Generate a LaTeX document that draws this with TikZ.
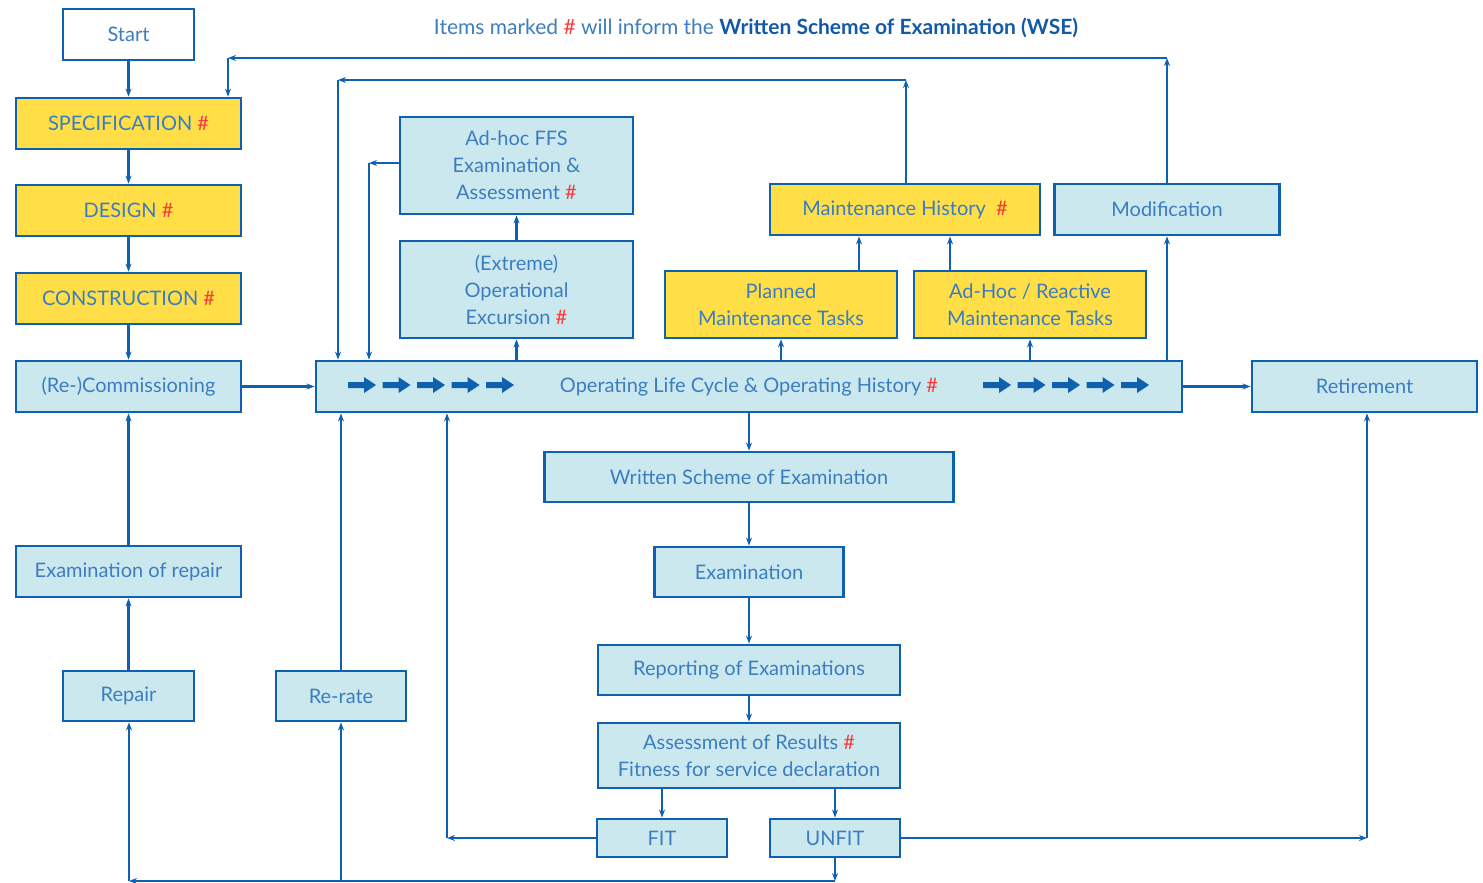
\documentclass[tikz,border=0pt]{standalone}
\usepackage{fontspec}
\setmainfont{Lato}
\usetikzlibrary{arrows.meta}
\definecolor{lb}{HTML}{1060B0}
\definecolor{fillb}{HTML}{CBE8EF}
\definecolor{yel}{HTML}{FFDE47}
\definecolor{txt}{HTML}{3C7DC0}
\definecolor{hashred}{HTML}{F53B3B}
\definecolor{dark}{HTML}{1458A8}
\newcommand\hs{{\color{hashred}\#}}
\begin{document}
\begin{tikzpicture}[x=1pt,y=-1pt,
  box/.style={draw=lb, line width=2.8pt, inner sep=0pt, text=txt, font=\fontsize{20}{27}\selectfont, align=center},
  whitebox/.style={box, fill=white},
  bluebox/.style={box, fill=fillb},
  yelbox/.style={box, fill=yel},
  arr/.style={draw=lb, line width=2.1pt, -{Stealth[length=8pt,width=6pt]}}]
\useasboundingbox (0,0) rectangle (1483,883);
% title
\node[text=txt, font=\fontsize{21}{25}\selectfont] (title) at (756,28)
  {Items marked \hs{} will inform the {\color{dark}\bfseries Written Scheme of Examination (WSE)}};
% left column
\node[whitebox, minimum width=131, minimum height=51] (start) at (128.5,34.5) {Start};
\node[yelbox, minimum width=225, minimum height=51] (spec) at (128.5,123.5) {SPECIFICATION \hs};
\node[yelbox, minimum width=225, minimum height=51] (design) at (128.5,210.5) {DESIGN \hs};
\node[yelbox, minimum width=225, minimum height=51] (constr) at (128.5,298.5) {CONSTRUCTION \hs};
\node[bluebox, minimum width=225, minimum height=51] (recomm) at (128.5,386.5) {(Re-)Commissioning};
\node[bluebox, minimum width=225, minimum height=51] (exrep) at (128.5,571.5) {Examination of repair};
\node[bluebox, minimum width=131, minimum height=50] (repair) at (128.5,696) {Repair};
\node[bluebox, minimum width=130, minimum height=50] (rerate) at (341,696) {Re-rate};
% main row
\node[bluebox, minimum width=866, minimum height=51] (op) at (749,386.5) {Operating Life Cycle \& Operating History \hs};
\node[bluebox, minimum width=225, minimum height=51] (ret) at (1364.5,386.5) {Retirement};
% upper boxes
\node[bluebox, minimum width=233, minimum height=97] (ffs) at (516.5,165.5) {Ad-hoc FFS\\Examination \&\\Assessment \hs};
\node[bluebox, minimum width=233, minimum height=97] (exc) at (516.5,289.5) {(Extreme)\\Operational\\Excursion \hs};
\node[yelbox, minimum width=270, minimum height=51] (mh) at (905,209.5) {Maintenance History~~\hs};
\node[bluebox, minimum width=225, minimum height=51] (mod) at (1167,209.5) {Modification};
\node[yelbox, minimum width=232, minimum height=67] (plan) at (781,304.5) {Planned\\Maintenance Tasks};
\node[yelbox, minimum width=232, minimum height=67] (adhoc) at (1030,304.5) {Ad-Hoc / Reactive\\Maintenance Tasks};
% lower column
\node[bluebox, minimum width=409, minimum height=50] (wse) at (749,477) {Written Scheme of Examination};
\node[bluebox, minimum width=189, minimum height=50] (exam) at (749,572) {Examination};
\node[bluebox, minimum width=302, minimum height=50] (rep) at (749,670) {Reporting of Examinations};
\node[bluebox, minimum width=302, minimum height=65] (ass) at (749,755.5) {Assessment of Results \hs\\Fitness for service declaration};
\node[bluebox, minimum width=130, minimum height=38] (fit) at (662,838) {FIT};
\node[bluebox, minimum width=130, minimum height=38] (unfit) at (835,838) {UNFIT};
% block arrows inside operating box
\foreach \x in {348,382.5,417,451.5,486,983,1017.5,1052,1086.5,1121}{
  \fill[lb] (\x,382) -- (\x+16,382) -- (\x+16,377) -- (\x+28,385) -- (\x+16,393) -- (\x+16,388) -- (\x,388) -- cycle;
}
% coordinates
\coordinate (a1) at (1167,58);
\coordinate (a2) at (228,58);
\coordinate (b1) at (906,80);
\coordinate (b2) at (338,80);
\coordinate (f1) at (369,163);
\coordinate (p1) at (859,0);
\coordinate (p2) at (950,0);
\coordinate (g1) at (447,838);
\coordinate (h1) at (1367,838);
\coordinate (k1) at (835,881);
\coordinate (k2) at (129,881);
% left column connectors
\draw[arr] (start.south) -- (spec.north);
\draw[arr] (spec.south) -- (design.north);
\draw[arr] (design.south) -- (constr.north);
\draw[arr] (constr.south) -- (recomm.north);
\draw[arr] (recomm.east) -- (op.west);
\draw[arr] (op.east) -- (ret.west);
\draw[arr] (repair.north) -- (exrep.south);
\draw[arr] (exrep.north) -- (recomm.south);
\draw[arr] (rerate.north) -- (op.south -| rerate.north);
% modification loop
\draw[arr] (op.north -| mod.south) -- (mod.south);
\draw[arr] (mod.north) -- (a1);
\draw[arr] (a1) -- (a2);
\draw[arr] (a2) -- (spec.north -| a2);
% maintenance history loop
\draw[arr] (mh.north -| b1) -- (b1);
\draw[arr] (b1) -- (b2);
\draw[arr] (b2) -- (op.north -| b2);
\draw[arr] (op.north -| plan.south) -- (plan.south);
\draw[arr] (op.north -| adhoc.south) -- (adhoc.south);
\draw[arr] (plan.north -| p1) -- (mh.south -| p1);
\draw[arr] (adhoc.north -| p2) -- (mh.south -| p2);
% excursion / FFS
\draw[arr] (op.north -| exc.south) -- (exc.south);
\draw[arr] (exc.north) -- (ffs.south);
\draw[arr] (ffs.west |- f1) -- (f1);
\draw[arr] (f1) -- (op.north -| f1);
% examination chain
\draw[arr] (wse.north |- op.south) -- (wse.north);
\draw[arr] (wse.south) -- (exam.north);
\draw[arr] (exam.south) -- (rep.north);
\draw[arr] (rep.south) -- (ass.north);
\draw[arr] (ass.south -| fit.north) -- (fit.north);
\draw[arr] (ass.south -| unfit.north) -- (unfit.north);
% fit / unfit
\draw[arr] (fit.west) -- (g1);
\draw[arr] (g1) -- (op.south -| g1);
\draw[arr] (unfit.east) -- (h1);
\draw[arr] (h1) -- (ret.south -| h1);
\draw[arr] (unfit.south) -- (k1);
\draw[arr] (k1) -- (k2);
\draw[arr] (k2) -- (repair.south -| k2);
\draw[arr] (rerate.south |- k1) -- (rerate.south);
\end{tikzpicture}
\end{document}
